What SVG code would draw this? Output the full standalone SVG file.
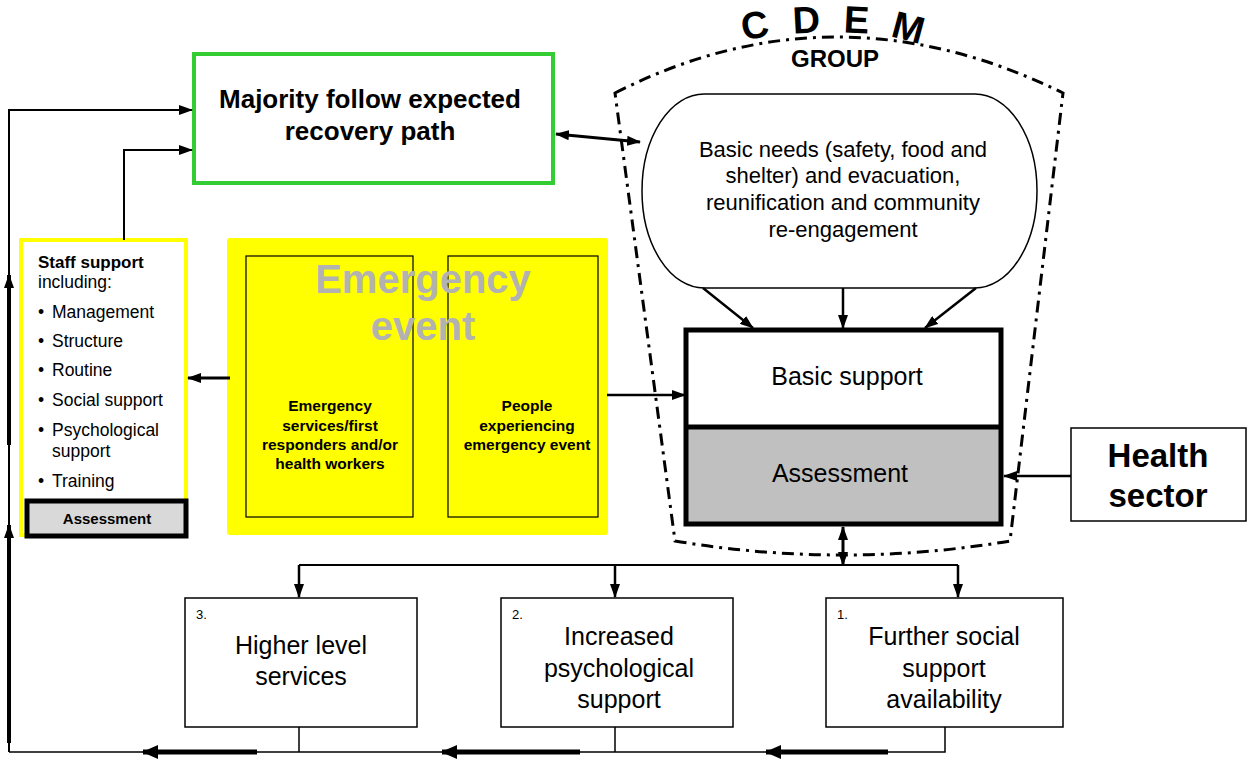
<svg xmlns="http://www.w3.org/2000/svg" width="1247" height="760" viewBox="0 0 1247 760">
<style>
text{font-family:"Liberation Sans",Arial,sans-serif;fill:#000}
.b{font-weight:bold}
.c{text-anchor:middle}
.ln{fill:none;stroke:#000}
.box{fill:#fff;stroke:#000;stroke-width:1.5}
</style>
<defs>
<marker id="ah" viewBox="0 0 14 10" markerWidth="14" markerHeight="10" refX="13" refY="5" orient="auto-start-reverse" markerUnits="userSpaceOnUse"><path d="M0,0 L14,5 L0,10 Z" fill="#000"/></marker>
<marker id="ahb" viewBox="0 0 16 14" markerWidth="16" markerHeight="14" refX="15" refY="7" orient="auto-start-reverse" markerUnits="userSpaceOnUse"><path d="M0,0 L16,7 L0,14 Z" fill="#000"/></marker>
</defs>
<rect width="1247" height="760" fill="#fff"/>

<g id="cdem-group">
<path d="M615,93 Q835,-19 1063,93 L1010,541 Q843,569 675,541 Z" fill="none" stroke="#000" stroke-width="3" stroke-dasharray="12 6 3 6"/>
<text class="b c" font-size="38" transform="translate(757,38) rotate(-10)">C</text>
<text class="b c" font-size="38" transform="translate(807,33) rotate(-3)">D</text>
<text class="b c" font-size="38" transform="translate(856,33) rotate(3)">E</text>
<text class="b c" font-size="38" transform="translate(905,40) rotate(15)">M</text>
<text class="b c" font-size="24" x="835" y="67">GROUP</text>
</g>

<g id="majority">
<rect x="194" y="54" width="359" height="129" fill="#fff" stroke="#33cc33" stroke-width="4"/>
<text class="b c" font-size="26" x="370" y="108">Majority follow expected</text>
<text class="b c" font-size="26" x="370" y="140">recovery path</text>
</g>

<g id="basic-needs">
<rect x="642" y="94" width="395" height="194" rx="62" ry="97" fill="#fff" stroke="#000" stroke-width="1.5"/>
<text class="c" font-size="22" x="843" y="157">Basic needs (safety, food and</text>
<text class="c" font-size="22" x="843" y="183">shelter) and evacuation,</text>
<text class="c" font-size="22" x="843" y="210">reunification and community</text>
<text class="c" font-size="22" x="843" y="237">re-engagement</text>
</g>

<g id="staff-support">
<rect x="21" y="240" width="165" height="295" fill="#fff" stroke="#ffff00" stroke-width="4"/>
<text class="b" font-size="17" x="38" y="268">Staff support</text>
<text font-size="17.5" x="38" y="288">including:</text>
<g font-size="17.5">
<text x="38" y="318">•</text><text x="52" y="318">Management</text>
<text x="38" y="347">•</text><text x="52" y="347">Structure</text>
<text x="38" y="376">•</text><text x="52" y="376">Routine</text>
<text x="38" y="406">•</text><text x="52" y="406">Social support</text>
<text x="38" y="436">•</text><text x="52" y="436">Psychological</text>
<text x="52" y="457">support</text>
<text x="38" y="487">•</text><text x="52" y="487">Training</text>
</g>
</g>

<g id="staff-assessment">
<rect x="27" y="501" width="159" height="35" fill="#d9d9d9" stroke="#000" stroke-width="5"/>
<text class="b c" font-size="15" x="107" y="524">Assessment</text>
</g>

<g id="emergency-event">
<rect x="227" y="238" width="381" height="297" rx="3" fill="#ffff00"/>
<rect x="246" y="256" width="167" height="261" fill="none" stroke="#000" stroke-width="1.2"/>
<rect x="448" y="256" width="150" height="261" fill="none" stroke="#000" stroke-width="1.2"/>
<text class="b c" font-size="40" x="423" y="293" fill="#b2b2b2" style="fill:#b2b2b2">Emergency</text>
<text class="b c" font-size="40" x="423" y="340" style="fill:#b2b2b2">event</text>
<g class="b c" font-size="15.5">
<text class="b c" x="330" y="411">Emergency</text>
<text class="b c" x="330" y="431">services/first</text>
<text class="b c" x="330" y="450">responders and/or</text>
<text class="b c" x="330" y="469">health workers</text>
<text class="b c" x="527" y="411">People</text>
<text class="b c" x="527" y="431">experiencing</text>
<text class="b c" x="527" y="450">emergency event</text>
</g>
</g>

<g id="basic-support">
<rect x="686" y="330" width="315" height="97" fill="#fff"/>
<rect x="686" y="427" width="315" height="97" fill="#c0c0c0"/>
<rect x="686" y="330" width="315" height="194" fill="none" stroke="#000" stroke-width="5"/>
<line x1="686" y1="427" x2="1001" y2="427" stroke="#000" stroke-width="5"/>
<text class="c" font-size="25" x="847" y="385">Basic support</text>
<text class="c" font-size="25" x="840" y="482">Assessment</text>
</g>

<g id="health-sector">
<rect x="1071" y="428" width="175" height="93" class="box"/>
<text class="b c" font-size="33" x="1158" y="467">Health</text>
<text class="b c" font-size="33" x="1158" y="507">sector</text>
</g>

<g id="higher-level">
<rect x="185" y="598" width="232" height="129" class="box"/>
<text font-size="13" x="196" y="619">3.</text>
<text class="c" font-size="25" x="301" y="654">Higher level</text>
<text class="c" font-size="25" x="301" y="685">services</text>
</g>

<g id="increased-psych">
<rect x="501" y="598" width="232" height="129" class="box"/>
<text font-size="13" x="512" y="619">2.</text>
<text class="c" font-size="25" x="619" y="645">Increased</text>
<text class="c" font-size="25" x="619" y="677">psychological</text>
<text class="c" font-size="25" x="619" y="708">support</text>
</g>

<g id="further-social">
<rect x="826" y="598" width="237" height="129" class="box"/>
<text font-size="13" x="837" y="619">1.</text>
<text class="c" font-size="25" x="944" y="645">Further social</text>
<text class="c" font-size="25" x="944" y="677">support</text>
<text class="c" font-size="25" x="944" y="708">availability</text>
</g>

<g id="connectors">
<path class="ln" stroke-width="2" d="M9,752 L9,110 L192,110" marker-end="url(#ah)"/>
<path class="ln" stroke-width="4" d="M9,445 L9,275" marker-end="url(#ah)"/>
<path class="ln" stroke-width="4" d="M9,743 L9,525" marker-end="url(#ah)"/>
<path class="ln" stroke-width="2" d="M124,240 L124,150 L192,150" marker-end="url(#ah)"/>
<path class="ln" stroke-width="3" d="M556,134 L640,142" marker-start="url(#ah)" marker-end="url(#ah)"/>
<path class="ln" stroke-width="3" d="M230,378 L188,378" marker-end="url(#ah)"/>
<path class="ln" stroke-width="2.5" d="M607,395 L685,395" marker-end="url(#ah)"/>
<path class="ln" stroke-width="2.5" d="M703,288 L753,328" marker-end="url(#ah)"/>
<path class="ln" stroke-width="2.5" d="M843,288 L843,328" marker-end="url(#ah)"/>
<path class="ln" stroke-width="2.5" d="M976,288 L925,328" marker-end="url(#ah)"/>
<path class="ln" stroke-width="2.5" d="M1071,476 L1004,476" marker-end="url(#ah)"/>
<path class="ln" stroke-width="3" d="M843,527 L843,565" marker-start="url(#ah)" marker-end="url(#ah)"/>
<path class="ln" stroke-width="2" d="M299,565 L958,565"/>
<path class="ln" stroke-width="2.5" d="M299,565 L299,597" marker-end="url(#ah)"/>
<path class="ln" stroke-width="2.5" d="M615,565 L615,597" marker-end="url(#ah)"/>
<path class="ln" stroke-width="2.5" d="M958,565 L958,597" marker-end="url(#ah)"/>
<path class="ln" stroke-width="1.5" d="M299,727 L299,752 M615,727 L615,752 M945,727 L945,752 L9,752"/>
<path class="ln" stroke-width="5" d="M888,752 L766,752" marker-end="url(#ahb)"/>
<path class="ln" stroke-width="5" d="M580,752 L442,752" marker-end="url(#ahb)"/>
<path class="ln" stroke-width="5" d="M257,752 L143,752" marker-end="url(#ahb)"/>
</g>
</svg>
